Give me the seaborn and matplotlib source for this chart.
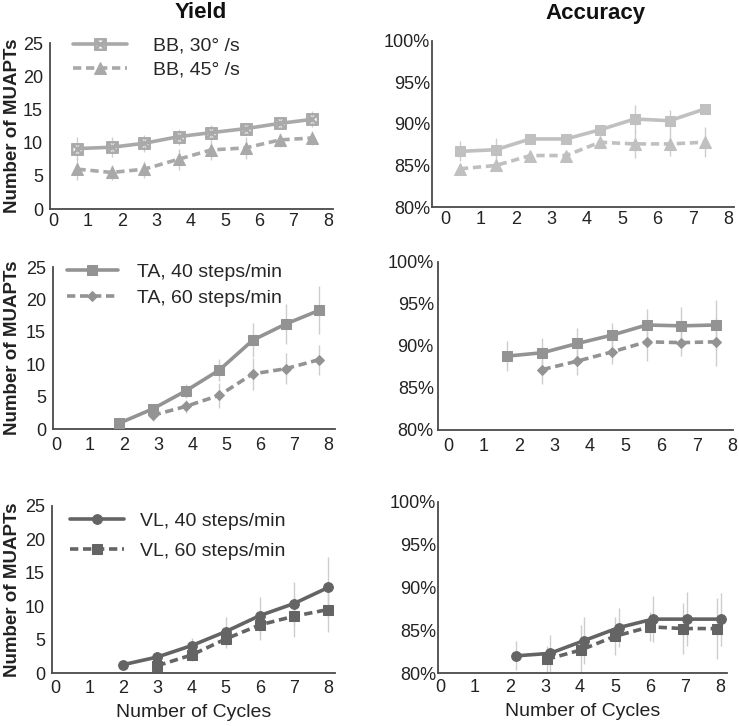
import numpy as np
import pandas as pd
import matplotlib
matplotlib.use('Agg')
import matplotlib.pyplot as plt
from matplotlib.ticker import PercentFormatter
import seaborn as sns

# Yield, biceps brachii (BB)
bb_x = [0.7, 1.7, 2.65, 3.65, 4.6, 5.6, 6.6, 7.55]
bb30 = [9.1, 9.3, 9.9, 10.9, 11.5, 12.1, 12.9, 13.5]
bb30_err = [1.7, 1.5, 1.3, 1.2, 1.1, 0.8, 0.8, 1.2]
bb45 = [6.0, 5.5, 6.0, 7.5, 8.9, 9.2, 10.4, 10.7]
bb45_err = [1.7, 1.2, 1.3, 1.6, 1.5, 1.6, 1.1, 1.0]

# Accuracy, BB
acc_bb_x = [0.42, 1.43, 2.41, 3.42, 4.38, 5.36, 6.35, 7.34]
acc_bb30 = [86.7, 86.9, 88.2, 88.2, 89.3, 90.6, 90.4, 91.8]
acc_bb30_err = [1.2, 1.4, 0.6, 0.6, 0.5, 1.7, 1.3, 0.6]
acc_bb45 = [84.6, 85.0, 86.2, 86.2, 87.8, 87.6, 87.6, 87.8]
acc_bb45_err = [0.5, 0.5, 0.4, 0.5, 0.5, 1.7, 1.5, 1.8]

# Yield, tibialis anterior (TA)
ta40_x = [1.86, 2.84, 3.82, 4.8, 5.78, 6.75, 7.73]
ta40 = [0.9, 3.1, 5.9, 9.1, 13.7, 16.2, 18.3]
ta40_err = [0.3, 0.6, 1.1, 1.7, 2.6, 3.1, 3.7]
ta60_x = [2.84, 3.82, 4.8, 5.78, 6.75, 7.73]
ta60 = [2.1, 3.5, 5.2, 8.5, 9.3, 10.7]
ta60_err = [0.9, 1.0, 1.9, 2.5, 2.4, 2.3]

# Accuracy, TA
acc_ta40_x = [1.67, 2.66, 3.64, 4.62, 5.59, 6.57, 7.53]
acc_ta40 = [88.8, 89.2, 90.3, 91.3, 92.5, 92.4, 92.5]
acc_ta40_err = [1.8, 1.7, 1.8, 1.4, 1.9, 2.3, 3.0]
acc_ta60_x = [2.66, 3.64, 4.62, 5.59, 6.57, 7.53]
acc_ta60 = [87.2, 88.2, 89.3, 90.5, 90.4, 90.5]
acc_ta60_err = [1.7, 1.7, 1.4, 2.3, 1.6, 2.9]

# Yield, vastus lateralis (VL)
vl40_x = [2, 3, 4, 5, 6, 7, 8]
vl40 = [1.25, 2.4, 4.1, 6.2, 8.6, 10.4, 12.8]
vl40_err = [0.6, 0.7, 1.1, 2.2, 2.8, 3.2, 4.5]
vl60_x = [3, 4, 5, 6, 7, 8]
vl60 = [1.1, 2.7, 5.1, 7.2, 8.5, 9.5]
vl60_err = [0.8, 0.9, 1.3, 2.3, 3.1, 3.3]

# Accuracy, VL
acc_vl40_x = [2.16, 3.14, 4.12, 5.1, 6.08, 7.05, 8.02]
acc_vl40 = [82.0, 82.3, 83.8, 85.3, 86.3, 86.3, 86.3]
acc_vl40_err = [1.7, 2.2, 2.8, 2.3, 2.7, 3.2, 3.1]
acc_vl60_x = [3.05, 4.03, 5.0, 6.0, 6.95, 7.92]
acc_vl60 = [81.6, 82.7, 84.3, 85.4, 85.2, 85.2]
acc_vl60_err = [1.5, 2.9, 2.2, 1.7, 3.0, 3.6]

x_ticks = list(range(0, 9))
yield_ticks = [0, 5, 10, 15, 20, 25]
acc_ticks = [80, 85, 90, 95, 100]

sns.set_theme(style='white')
plt.rcParams['font.family'] = ['Liberation Sans', 'DejaVu Sans']

W, H = 739, 726
fig = plt.figure(figsize=(W / 100, H / 100), dpi=100)

light = '#a9a9a9'
lighter = '#c0c0c0'
mid = '#939393'
dark = '#646464'
err_col = '#cdcdcd'
dash = (0, (2.3, 1.3))


def px_axes(left, top, right, bottom):
    return fig.add_axes([left / W, 1 - bottom / H, (right - left) / W, (bottom - top) / H])


def style_axes(ax, xlim, ylim, yticks, xpad, ypad, pct=False):
    ax.set_xlim(*xlim)
    ax.set_ylim(*ylim)
    ax.set_xticks(x_ticks)
    ax.set_yticks(yticks)
    if pct:
        ax.yaxis.set_major_formatter(PercentFormatter(decimals=0))
    for s in ['top', 'right']:
        ax.spines[s].set_visible(False)
    for s in ['left', 'bottom']:
        ax.spines[s].set_color('#4a4a4a')
        ax.spines[s].set_linewidth(1.3)
    ax.tick_params(axis='x', length=0, pad=xpad, labelsize=13, labelcolor='#222222')
    ax.tick_params(axis='y', length=0, pad=ypad, labelsize=13, labelcolor='#222222')
    ax.grid(False)


def series(ax, x, y, err, color, marker, ms, ls='-', label=None, mfc=None):
    ax.errorbar(x, y, yerr=err, fmt='none', ecolor=err_col, elinewidth=1.0, capsize=0, zorder=1)
    sns.lineplot(x=x, y=y, ax=ax, color=color, marker=marker, markersize=ms,
                 linewidth=2.6, linestyle=ls, label=label, errorbar=None,
                 markeredgecolor=color, markerfacecolor=mfc if mfc else color,
                 zorder=3, legend=False)


def add_legend(ax, lx, ly, spacing, hlen, tpad):
    ax.legend(loc='upper left', bbox_to_anchor=(lx / W, 1 - ly / H),
              bbox_transform=fig.transFigure, frameon=False, fontsize=14,
              handlelength=hlen, handletextpad=tpad, labelspacing=spacing,
              borderpad=0, borderaxespad=0)


def set_ylab(ax, left, right):
    ax.set_ylabel('Number of MUAPTs', fontsize=13.5, fontweight='bold', color='#222222')
    ax.yaxis.set_label_coords((21 - left) / (right - left), 0.5)


# Row 1: BB
ax = px_axes(50, 43, 333, 209)
series(ax, bb_x, bb30, bb30_err, light, r'$\boxtimes$', 8.5, label='BB, 30° /s')
series(ax, bb_x, bb45, bb45_err, light, '^', 8, ls=dash, label='BB, 45° /s')
style_axes(ax, (-0.1, 8.15), (0, 25), yield_ticks, 3, 5)
set_ylab(ax, 50, 333)
add_legend(ax, 73, 37, 0.32, 2.8, 1.3)

ax = px_axes(432, 41, 734, 207)
series(ax, acc_bb_x, acc_bb30, acc_bb30_err, lighter, 's', 7)
series(ax, acc_bb_x, acc_bb45, acc_bb45_err, lighter, '^', 8, ls=dash)
style_axes(ax, (-0.37, 8.17), (80, 100), acc_ticks, 3, 1.5, pct=True)

# Row 2: TA
ax = px_axes(53, 267, 335, 429)
series(ax, ta40_x, ta40, ta40_err, mid, 's', 7, label='TA, 40 steps/min')
series(ax, ta60_x, ta60, ta60_err, mid, 'D', 5, ls=dash, label='TA, 60 steps/min')
style_axes(ax, (-0.09, 8.2), (0, 25), yield_ticks, 6, 5)
set_ylab(ax, 53, 335)
add_legend(ax, 67, 263, 0.45, 2.6, 1.0)

ax = px_axes(438, 262, 733, 430)
series(ax, acc_ta40_x, acc_ta40, acc_ta40_err, mid, 's', 7)
series(ax, acc_ta60_x, acc_ta60, acc_ta60_err, mid, 'D', 5, ls=dash)
style_axes(ax, (-0.28, 8.02), (80, 100), acc_ticks, 6, 3, pct=True)

# Row 3: VL
ax = px_axes(52, 506, 335, 673)
series(ax, vl40_x, vl40, vl40_err, dark, 'o', 7, label='VL, 40 steps/min')
series(ax, vl60_x, vl60, vl60_err, dark, 's', 7, ls=dash, label='VL, 60 steps/min')
style_axes(ax, (-0.09, 8.2), (0, 25), yield_ticks, 5, 5)
set_ylab(ax, 52, 335)
ax.set_xlabel('Number of Cycles', fontsize=14, color='#222222', labelpad=5)
add_legend(ax, 70, 512, 0.65, 2.8, 0.8)

ax = px_axes(438, 502, 727, 673)
series(ax, acc_vl40_x, acc_vl40, acc_vl40_err, dark, 'o', 7)
series(ax, acc_vl60_x, acc_vl60, acc_vl60_err, dark, 's', 7, ls=dash)
style_axes(ax, (-0.06, 8.2), (80, 100), acc_ticks, 4, 1.5, pct=True)
ax.set_xlabel('Number of Cycles', fontsize=14, color='#222222', labelpad=5)

fig.text(201 / W, 1 - 13 / H, 'Yield', ha='center', va='center', fontsize=16, fontweight='bold', color='#111111')
fig.text(596 / W, 1 - 13 / H, 'Accuracy', ha='center', va='center', fontsize=16, fontweight='bold', color='#111111')

fig.savefig('out.png', dpi=100)
